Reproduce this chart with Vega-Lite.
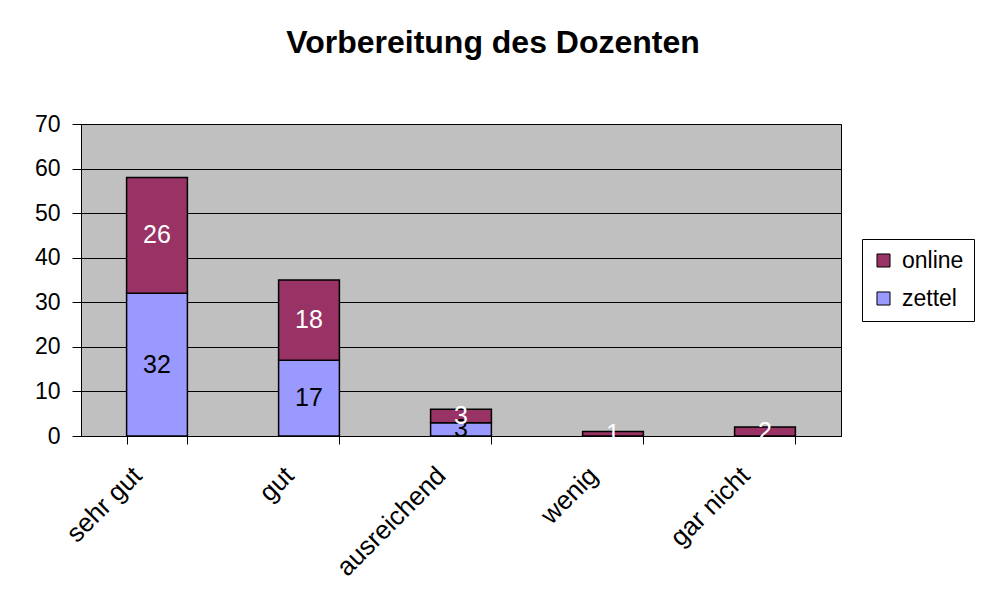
{
  "$schema": "https://vega.github.io/schema/vega-lite/v6.json",
  "width": 760,
  "height": 312,
  "autosize": "none",
  "padding": {"left": 81, "top": 124, "right": 145, "bottom": 171},
  "background": "white",
  "title": {
    "text": "Vorbereitung des Dozenten",
    "font": "Liberation Sans",
    "fontSize": 32,
    "fontWeight": "bold",
    "color": "black",
    "anchor": "middle",
    "frame": "group",
    "dx": 32,
    "offset": 53
  },
  "data": {
    "values": [
      {"kategorie": "sehr gut", "serie": "zettel", "anzahl": 32},
      {"kategorie": "sehr gut", "serie": "online", "anzahl": 26},
      {"kategorie": "gut", "serie": "zettel", "anzahl": 17},
      {"kategorie": "gut", "serie": "online", "anzahl": 18},
      {"kategorie": "ausreichend", "serie": "zettel", "anzahl": 3},
      {"kategorie": "ausreichend", "serie": "online", "anzahl": 3},
      {"kategorie": "wenig", "serie": "online", "anzahl": 1},
      {"kategorie": "gar nicht", "serie": "online", "anzahl": 2}
    ]
  },
  "encoding": {
    "x": {
      "field": "kategorie",
      "type": "nominal",
      "sort": ["sehr gut", "gut", "ausreichend", "wenig", "gar nicht"],
      "scale": {"paddingInner": 0.6, "paddingOuter": 0.3, "align": 0.5},
      "axis": {
        "title": null,
        "labelAngle": -45,
        "labelAlign": "right",
        "labelBaseline": "top",
        "labelFont": "Liberation Sans",
        "labelFontSize": 26,
        "labelColor": "black",
        "labelPadding": 18,
        "labelOffset": -29,
        "domainColor": "black",
        "tickColor": "black",
        "tickBand": "extent",
        "tickSize": 8,
        "grid": false
      }
    },
    "y": {
      "field": "anzahl",
      "type": "quantitative",
      "stack": "zero",
      "scale": {"domain": [0, 70], "nice": false},
      "axis": {
        "title": null,
        "values": [0, 10, 20, 30, 40, 50, 60, 70],
        "labelFont": "Liberation Sans",
        "labelFontSize": 23,
        "labelColor": "black",
        "labelPadding": 12,
        "domainColor": "black",
        "tickColor": "black",
        "tickSize": 9,
        "gridColor": "black",
        "gridOpacity": 1,
        "gridWidth": 1
      }
    },
    "order": {"field": "serie", "sort": "descending"}
  },
  "layer": [
    {
      "mark": {"type": "bar", "stroke": "black", "strokeWidth": 1.5},
      "encoding": {
        "color": {
          "field": "serie",
          "type": "nominal",
          "scale": {"domain": ["online", "zettel"], "range": ["#993366", "#9999FF"]},
          "legend": {
            "title": null,
            "orient": "none",
            "legendX": 781,
            "legendY": 115,
            "strokeColor": "black",
            "fillColor": "white",
            "padding": 10,
            "symbolType": "square",
            "symbolSize": 170,
            "symbolStrokeColor": "black",
            "symbolStrokeWidth": 1,
            "labelFont": "Liberation Sans",
            "labelFontSize": 23,
            "labelColor": "black",
            "rowPadding": 14,
            "labelOffset": 7
          }
        }
      }
    },
    {
      "mark": {"type": "text", "font": "Liberation Sans", "fontSize": 25, "baseline": "middle"},
      "encoding": {
        "y": {"field": "anzahl", "type": "quantitative", "stack": "zero", "bandPosition": 0.5},
        "text": {"field": "anzahl", "type": "quantitative"},
        "color": {
          "field": "serie",
          "type": "nominal",
          "scale": {"domain": ["online", "zettel"], "range": ["white", "black"]},
          "legend": null
        }
      }
    }
  ],
  "resolve": {"scale": {"color": "independent"}},
  "config": {
    "view": {"fill": "#C0C0C0", "stroke": "black", "strokeWidth": 1}
  }
}
